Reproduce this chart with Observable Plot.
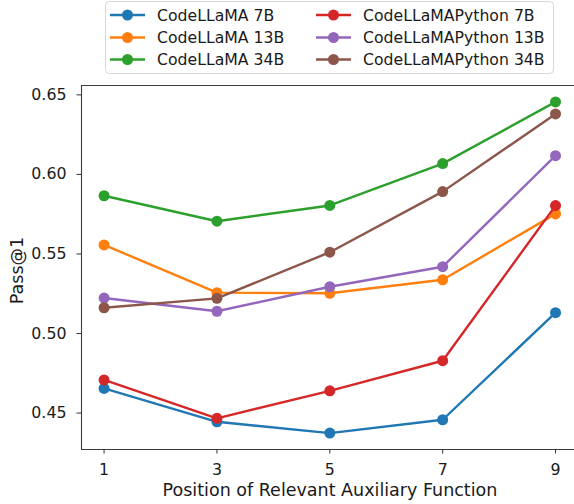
<!DOCTYPE html>
<html>
<head>
<meta charset="utf-8">
<script src="https://cdn.jsdelivr.net/npm/d3@7"></script>
<script src="https://cdn.jsdelivr.net/npm/@observablehq/plot@0.6"></script>
<style>
  body { margin: 0; background: #fff; font-family: "DejaVu Sans", sans-serif; }
  #wrap { width: 574px; height: 504px; overflow: hidden; }
  #legend { display: block; }
</style>
</head>
<body>
<div id="wrap"></div>
<script>
const positions = [1, 3, 5, 7, 9];
const seriesNames = ["CodeLLaMA 7B", "CodeLLaMA 13B", "CodeLLaMA 34B", "CodeLLaMAPython 7B", "CodeLLaMAPython 13B", "CodeLLaMAPython 34B"];
const seriesColors = ["#1f77b4", "#ff7f0e", "#2ca02c", "#d62728", "#9467bd", "#8c564b"];
const codellama7b = [0.4655, 0.4445, 0.4374, 0.4458, 0.5131];
const codellama13b = [0.5557, 0.5257, 0.5253, 0.5338, 0.5752];
const codellama34b = [0.5866, 0.5706, 0.5805, 0.6068, 0.6456];
const python7b = [0.4708, 0.4467, 0.4640, 0.4829, 0.5804];
const python13b = [0.5223, 0.5140, 0.5294, 0.5420, 0.6118];
const python34b = [0.5162, 0.5221, 0.5511, 0.5892, 0.6380];
const yTicks = [0.45, 0.50, 0.55, 0.60, 0.65];
const xLabel = "Position of Relevant Auxiliary Function";
const yLabel = "Pass@1";

const allValues = [codellama7b, codellama13b, codellama34b, python7b, python13b, python34b];
const rows = [];
seriesNames.forEach((name, i) => {
  positions.forEach((p, j) => rows.push({series: name, idx: i, x: p, y: allValues[i][j]}));
});

const font = "DejaVu Sans, sans-serif";
const wrap = document.getElementById("wrap");

const xDomain = [0.6, 9.336];
const yDomain = [0.4271, 0.6559];

// Legend (SVG above the plot)
const legendH = 80;
const leg = d3.create("svg").attr("id", "legend").attr("width", 574).attr("height", legendH)
  .style("font-family", font);
leg.append("rect").attr("x", 105.5).attr("y", 1.5).attr("width", 448).attr("height", 72)
  .attr("rx", 4).attr("fill", "#fff").attr("stroke", "#d6d6d6").attr("stroke-width", 1);
const colX = [110, 316];
const rowY = [15, 37.5, 59.5];
seriesNames.forEach((name, i) => {
  const col = Math.floor(i / 3), r = i % 3;
  const x0 = colX[col], y0 = rowY[r];
  const g = leg.append("g");
  g.append("line").attr("x1", x0).attr("x2", x0 + 35).attr("y1", y0).attr("y2", y0)
    .attr("stroke", seriesColors[i]).attr("stroke-width", 2.4);
  g.append("circle").attr("cx", x0 + 17.5).attr("cy", y0).attr("r", 5.5).attr("fill", seriesColors[i]);
  g.append("text").attr("x", x0 + 47).attr("y", y0).attr("dy", "0.36em")
    .attr("font-size", 15.7).attr("fill", "#1a1a1a").text(name);
});
wrap.appendChild(leg.node());

const marks = [];
seriesNames.forEach((name, i) => {
  const d = rows.filter(r => r.idx === i);
  marks.push(Plot.line(d, {x: "x", y: "y", stroke: seriesColors[i], strokeWidth: 2.4}));
  marks.push(Plot.dot(d, {x: "x", y: "y", r: 5.5, fill: seriesColors[i], stroke: "none"}));
});

const chart = Plot.plot({
  width: 574,
  height: 504 - legendH,
  marginTop: 5,
  marginBottom: 55,
  marginLeft: 81,
  marginRight: 0,
  style: {fontFamily: font, background: "#fff", overflow: "visible"},
  x: {domain: xDomain},
  y: {domain: yDomain},
  marks: [
    ...marks,
    Plot.ruleX([xDomain[0]], {stroke: "#3a3a3a", strokeWidth: 1.1}),
    Plot.ruleY(yDomain, {stroke: "#3a3a3a", strokeWidth: 1.1}),
    Plot.axisY(yTicks, {tickSize: 4.5, tickPadding: 10.5, fontSize: 15.8, tickFormat: d3.format(".2f"), label: null, stroke: "#333", fill: "#1a1a1a"}),
    Plot.axisX(positions, {tickSize: 4.5, tickPadding: 10, fontSize: 15.8, tickFormat: d => String(d), label: null, stroke: "#333", fill: "#1a1a1a"}),
    Plot.text([xLabel], {frameAnchor: "bottom", dy: 41, dx: 2, fontSize: 17.5, fill: "#1a1a1a", lineAnchor: "middle"}),
    Plot.text([yLabel], {frameAnchor: "left", dx: -64, dy: 3, rotate: -90, fontSize: 17.5, fill: "#1a1a1a", lineAnchor: "middle", textAnchor: "middle"})
  ]
});
wrap.appendChild(chart);
</script>
</body>
</html>
